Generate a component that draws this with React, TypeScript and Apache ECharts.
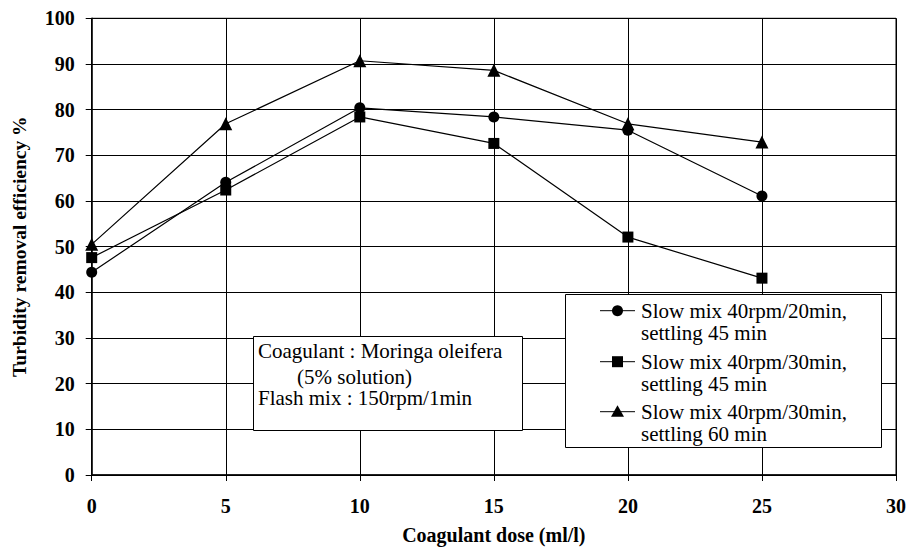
import React, { useEffect, useRef } from "react";
import * as echarts from "echarts";

const doses = [0, 5, 10, 15, 20, 25];
const slow20Settle45 = [44.4, 64.1, 80.4, 78.4, 75.5, 61.1];
const slow30Settle45 = [47.6, 62.4, 78.4, 72.6, 52.1, 43.1];
const slow30Settle60 = [50.5, 76.9, 90.7, 88.6, 76.9, 72.9];

const seriesNames = [
  "Slow mix 40rpm/20min,\nsettling 45 min",
  "Slow mix 40rpm/30min,\nsettling 45 min",
  "Slow mix 40rpm/30min,\nsettling 60 min",
];
const seriesSymbols = ["circle", "rect", "triangle"];
const seriesSizes = [11, 11, 13];
const noteLines = ["Coagulant : Moringa oleifera", "(5% solution)", "Flash mix : 150rpm/1min"];

const xTitle = "Coagulant dose (ml/l)";
const yTitle = "Turbidity removal efficiency %";

const FONT = "Liberation Serif";

export default function App() {
  const ref = useRef<HTMLDivElement>(null);
  useEffect(() => {
    document.body.style.margin = "0";
    if (!ref.current) return;
    const chart = echarts.init(ref.current, null, { renderer: "svg" });
    const allData = [slow20Settle45, slow30Settle45, slow30Settle60];

    const legendItems: any[] = [];
    const legendRows = [310.7, 361.7, 411.7];
    seriesNames.forEach((name, i) => {
      const y = legendRows[i];
      legendItems.push({
        type: "line",
        z: 12,
        shape: { x1: 600, y1: y, x2: 635, y2: y },
        style: { stroke: "#000", lineWidth: 1 },
      });
      if (i === 0) {
        legendItems.push({ type: "circle", z: 12, shape: { cx: 617.5, cy: y, r: 5.5 }, style: { fill: "#000" } });
      } else if (i === 1) {
        legendItems.push({ type: "rect", z: 12, shape: { x: 612, y: y - 5.5, width: 11, height: 11 }, style: { fill: "#000" } });
      } else {
        legendItems.push({
          type: "polygon",
          z: 12,
          shape: { points: [[617.5, y - 6.5], [624, y + 5], [611, y + 5]] },
          style: { fill: "#000" },
        });
      }
      legendItems.push({
        type: "text",
        z: 12,
        x: 641,
        y: y - 11,
        style: {
          text: name,
          fontFamily: FONT,
          fontSize: 21,
          fill: "#000",
          lineHeight: 22,
          verticalAlign: "top",
        },
      });
    });

    const noteStyle = (t: string) => ({ text: t, fontFamily: FONT, fontSize: 21, fill: "#000", verticalAlign: "middle" });

    chart.setOption({
      animation: false,
      backgroundColor: "#fff",
      textStyle: { fontFamily: FONT },
      grid: {
        left: 91.7,
        top: 18.3,
        right: 11.3,
        bottom: 73.3,
        show: true,
        borderColor: "#000",
        borderWidth: 1,
      },
      xAxis: {
        type: "value",
        min: 0,
        max: 30,
        interval: 5,
        name: xTitle,
        nameLocation: "middle",
        nameGap: 50,
        nameTextStyle: { fontFamily: FONT, fontWeight: "bold", fontSize: 20, color: "#000" },
        axisLine: { show: true, onZero: false, lineStyle: { color: "#000", width: 1.5 } },
        axisTick: { show: true, length: 6, lineStyle: { color: "#000" } },
        axisLabel: { margin: 21, fontFamily: FONT, fontWeight: "bold", fontSize: 20, color: "#000" },
        splitLine: { show: true, lineStyle: { color: "#000", width: 1 } },
      },
      yAxis: {
        type: "value",
        min: 0,
        max: 100,
        interval: 10,
        name: yTitle,
        nameLocation: "middle",
        nameGap: 62,
        nameTextStyle: { fontFamily: FONT, fontWeight: "bold", fontSize: 19.5, color: "#000" },
        axisLine: { show: true, lineStyle: { color: "#000", width: 1.5 } },
        axisTick: { show: true, length: 6, lineStyle: { color: "#000" } },
        axisLabel: { margin: 17, fontFamily: FONT, fontWeight: "bold", fontSize: 20, color: "#000" },
        splitLine: { show: true, lineStyle: { color: "#000", width: 1 } },
      },
      series: allData.map((vals, i) => ({
        name: seriesNames[i],
        type: "line",
        data: doses.map((d, j) => [d, vals[j]]),
        symbol: seriesSymbols[i],
        symbolSize: seriesSizes[i],
        showSymbol: true,
        lineStyle: { color: "#000", width: 1.2 },
        itemStyle: { color: "#000" },
        z: 3,
      })),
      graphic: [
        {
          type: "rect",
          z: 10,
          shape: { x: 253.5, y: 336.5, width: 269, height: 94 },
          style: { fill: "#fff", stroke: "#000", lineWidth: 1 },
        },
        { type: "text", z: 11, x: 258, y: 350.7, style: noteStyle(noteLines[0]) },
        { type: "text", z: 11, x: 297, y: 376.7, style: noteStyle(noteLines[1]) },
        { type: "text", z: 11, x: 258, y: 398.3, style: noteStyle(noteLines[2]) },
        {
          type: "rect",
          z: 10,
          shape: { x: 565.5, y: 294.5, width: 316, height: 153 },
          style: { fill: "#fff", stroke: "#000", lineWidth: 1 },
        },
        ...legendItems,
      ],
    });
    return () => chart.dispose();
  }, []);
  return <div ref={ref} style={{ width: 909, height: 550, position: "absolute", left: 0, top: 0 }} />;
}
